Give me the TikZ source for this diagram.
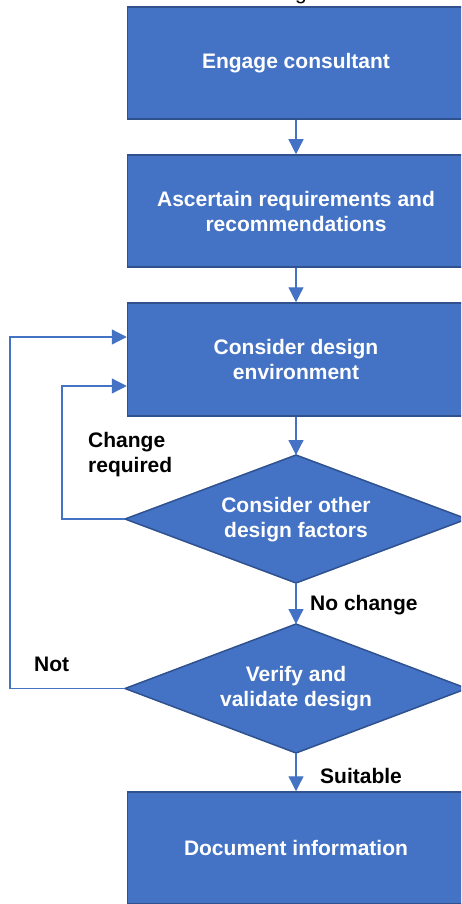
\documentclass[tikz,border=0pt]{standalone}
\usepackage{fontspec}
\setmainfont{Liberation Sans}
\usetikzlibrary{arrows.meta,calc}
\definecolor{ofblue}{HTML}{4472C4}
\definecolor{ofedge}{HTML}{2F528F}
\tikzset{
  procbox/.style={draw=ofedge,line width=1.5pt,fill=ofblue,minimum width=337pt,
    text=white,font=\fontsize{21}{25}\selectfont\bfseries,align=center,inner sep=0pt},
  decshape/.style={draw=ofedge,line width=1.5pt,fill=ofblue,line join=miter},
  dectext/.style={text=white,font=\fontsize{21}{25}\selectfont\bfseries,align=center,inner sep=0pt},
  lbl/.style={text=black,font=\fontsize{21}{25}\selectfont\bfseries,align=left,inner sep=0pt,anchor=west},
  arr/.style={draw=ofblue,line width=1.3pt,-{Triangle[width=15pt,length=15pt]}},
}
\begin{document}
\begin{tikzpicture}[x=1pt,y=-1pt]
\useasboundingbox (0,0) rectangle (461,904);
\clip (0,0) rectangle (461,904);
\node[anchor=base,font=\fontsize{21}{25}\selectfont,inner sep=0pt] (cap) at (301,0) {g};
\node[procbox,minimum height=112pt] (b1) at (296,63) {\raisebox{-2pt}{Engage consultant}};
\node[procbox,minimum height=112pt] (b2) at (296,211) {Ascertain requirements and\\recommendations};
\node[procbox,minimum height=113pt] (b3) at (296,359.5) {Consider design\\environment};
% decision 1
\coordinate (d1n) at (296,455);
\coordinate (d1s) at (296,583);
\coordinate (d1w) at (125,519);
\coordinate (d1e) at (467,519);
\draw[decshape] (d1n) -- (d1e) -- (d1s) -- (d1w) -- cycle;
\node[dectext] (d1) at (296,520) {Consider other\\design factors};
% decision 2
\coordinate (d2n) at (296,624);
\coordinate (d2s) at (296,753);
\coordinate (d2w) at (125,688.5);
\coordinate (d2e) at (467,688.5);
\draw[decshape] (d2n) -- (d2e) -- (d2s) -- (d2w) -- cycle;
\node[dectext] (d2) at (296,689) {Verify and\\validate design};
\node[procbox,minimum height=112pt] (b4) at (296,848) {Document information};
\coordinate (in1) at ($(b3.west)+(0,26.5)$);
\coordinate (in2) at ($(b3.west)+(0,-22.5)$);
\draw[arr] (b1.south) -- (b2.north);
\draw[arr] (b2.south) -- (b3.north);
\draw[arr] (b3.south) -- (d1n);
\draw[arr] (d1s) -- (d2n);
\draw[arr] (d2s) -- (b4.north);
\draw[arr] (d1w) -- ++(-63,0) |- (in1);
\draw[arr] (d2w) -- ++(-115,0) |- (in2);
\node[lbl] (lc) at (88,455) {Change\\required};
\node[lbl] (ln) at (310,605) {No change};
\node[lbl] (lnot) at (34,664) {Not};
\node[lbl] (ls) at (320,776) {Suitable};
\end{tikzpicture}
\end{document}
